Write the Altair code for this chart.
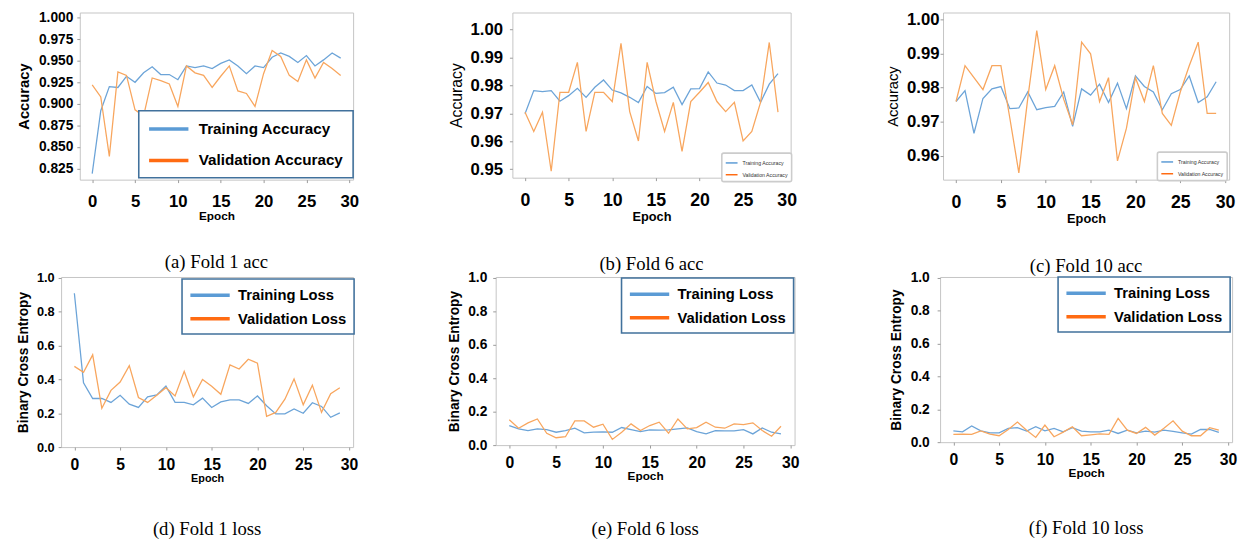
import altair as alt
import pandas as pd

epochs = list(range(30))

train_acc_f1 = [0.819, 0.892, 0.920, 0.919, 0.932, 0.925, 0.936, 0.943, 0.934, 0.934,
                0.928, 0.944, 0.942, 0.944, 0.941, 0.947, 0.951, 0.944, 0.935, 0.944,
                0.942, 0.954, 0.959, 0.955, 0.948, 0.956, 0.944, 0.951, 0.959, 0.953]
val_acc_f1 = [0.922, 0.908, 0.839, 0.937, 0.933, 0.893, 0.886, 0.930, 0.927, 0.923,
              0.897, 0.944, 0.936, 0.933, 0.919, 0.932, 0.944, 0.915, 0.912, 0.897,
              0.935, 0.962, 0.955, 0.933, 0.926, 0.951, 0.930, 0.948, 0.941, 0.933]

train_acc_f6 = [0.9698, 0.9781, 0.9777, 0.9781, 0.9743, 0.9763, 0.9789, 0.9757, 0.9793, 0.9819,
                0.9783, 0.9773, 0.9757, 0.9738, 0.9796, 0.9771, 0.9774, 0.9793, 0.9731, 0.9787,
                0.9788, 0.9848, 0.9808, 0.9801, 0.9781, 0.9781, 0.9801, 0.9739, 0.9804, 0.9842]
val_acc_f6 = [0.9704, 0.9635, 0.9704, 0.9493, 0.9775, 0.9775, 0.9882, 0.9635, 0.9775, 0.9775,
              0.9742, 0.9950, 0.9706, 0.9601, 0.9882, 0.9743, 0.9635, 0.9739, 0.9564, 0.9742,
              0.9775, 0.9810, 0.9742, 0.9706, 0.9739, 0.9601, 0.9635, 0.9739, 0.9953, 0.9704]

train_acc_f10 = [0.9759, 0.9791, 0.9666, 0.9768, 0.9796, 0.9803, 0.9738, 0.9740, 0.9787, 0.9735,
                 0.9741, 0.9745, 0.9787, 0.9686, 0.9796, 0.9778, 0.9810, 0.9756, 0.9813, 0.9738,
                 0.9834, 0.9803, 0.9787, 0.9735, 0.9782, 0.9794, 0.9834, 0.9756, 0.9773, 0.9817]
val_acc_f10 = [0.9759, 0.9864, 0.9829, 0.9794, 0.9864, 0.9864, 0.9710, 0.9550, 0.9769, 0.9967,
               0.9794, 0.9864, 0.9766, 0.9691, 0.9933, 0.9899, 0.9759, 0.9829, 0.9585, 0.9681,
               0.9829, 0.9759, 0.9864, 0.9724, 0.9689, 0.9787, 0.9864, 0.9933, 0.9724, 0.9724]

train_loss_f1 = [0.909, 0.380, 0.287, 0.287, 0.264, 0.306, 0.254, 0.234, 0.297, 0.308,
                 0.360, 0.264, 0.264, 0.250, 0.289, 0.234, 0.267, 0.279, 0.279, 0.258,
                 0.302, 0.244, 0.196, 0.196, 0.225, 0.200, 0.262, 0.240, 0.176, 0.202]
val_loss_f1 = [0.477, 0.442, 0.545, 0.229, 0.335, 0.384, 0.481, 0.293, 0.264, 0.306,
               0.351, 0.302, 0.448, 0.297, 0.399, 0.360, 0.312, 0.486, 0.461, 0.519,
               0.496, 0.182, 0.205, 0.283, 0.403, 0.250, 0.366, 0.205, 0.316, 0.351]

train_loss_f6 = [0.117, 0.097, 0.087, 0.097, 0.093, 0.077, 0.087, 0.101, 0.073, 0.077,
                 0.079, 0.077, 0.105, 0.093, 0.081, 0.091, 0.089, 0.091, 0.097, 0.103,
                 0.081, 0.067, 0.087, 0.085, 0.085, 0.093, 0.067, 0.103, 0.077, 0.067]
val_loss_f6 = [0.152, 0.101, 0.133, 0.156, 0.071, 0.044, 0.050, 0.145, 0.145, 0.107,
               0.125, 0.034, 0.077, 0.127, 0.087, 0.117, 0.137, 0.071, 0.156, 0.097,
               0.105, 0.137, 0.107, 0.101, 0.127, 0.123, 0.133, 0.087, 0.053, 0.113]

train_loss_f10 = [0.069, 0.063, 0.098, 0.069, 0.057, 0.057, 0.084, 0.088, 0.067, 0.094,
                  0.069, 0.084, 0.063, 0.088, 0.067, 0.063, 0.063, 0.073, 0.053, 0.073,
                  0.057, 0.067, 0.061, 0.073, 0.065, 0.057, 0.049, 0.077, 0.077, 0.059]
val_loss_f10 = [0.047, 0.049, 0.047, 0.069, 0.049, 0.039, 0.077, 0.122, 0.073, 0.029,
                0.104, 0.033, 0.061, 0.094, 0.039, 0.045, 0.051, 0.047, 0.145, 0.073,
                0.053, 0.090, 0.043, 0.084, 0.130, 0.067, 0.039, 0.039, 0.088, 0.073]

acc_names = ["Training Accuracy", "Validation Accuracy"]
loss_names = ["Training Loss", "Validation Loss"]
x_ticks = [0, 5, 10, 15, 20, 25, 30]
acc_ticks_f1 = [0.825, 0.850, 0.875, 0.900, 0.925, 0.950, 0.975, 1.000]
acc_ticks_f6 = [0.95, 0.96, 0.97, 0.98, 0.99, 1.00]
acc_ticks_f10 = [0.96, 0.97, 0.98, 0.99, 1.00]
loss_ticks = [0.0, 0.2, 0.4, 0.6, 0.8, 1.0]
captions = ["(a) Fold 1 acc", "(b) Fold 6 acc", "(c) Fold 10 acc",
            "(d) Fold 1 loss", "(e) Fold 6 loss", "(f) Fold 10 loss"]

SANS = "Liberation Sans, Arial, sans-serif"
SERIF = "Liberation Serif, Times New Roman, serif"

BLUE_LINE = "#6ca4d8"
ORANGE_LINE = "#f8a65e"
BLUE_KEY = "#5b9bd5"
ORANGE_KEY = "#ff6b12"


def big_legend(lx, ly, fs, rp, lo, pad):
    return dict(
        title=None, orient="none", legendX=lx, legendY=ly,
        symbolType="M-2.667,0H2.667", symbolSize=225, symbolStrokeWidth=3.5,
        symbolOpacity=1, symbolOffset=12, labelOffset=lo,
        labelFont=SANS, labelFontSize=fs, labelFontWeight="bold", labelColor="black",
        labelLimit=400,
        fillColor="white", strokeColor="#41719c",
        padding=pad, rowPadding=rp,
    )


def small_legend(lx, ly):
    return dict(
        title=None, orient="none", legendX=lx, legendY=ly,
        symbolType="stroke", symbolSize=144, symbolStrokeWidth=1.5, symbolOpacity=1,
        labelFont=SANS, labelFontSize=5.3, labelColor="#333", labelOffset=4,
        fillColor="white", strokeColor="#cccccc", cornerRadius=2,
        padding=3, rowPadding=1,
    )


def panel(train, val, names, ydom, yticks, yfmt, ytitle, ytsize, ytweight, ytpad,
          ylsize, ylpad, xlsize, xlpad, etsize, etpad, legend, caption, w, h, cap_off):
    df = pd.DataFrame({
        "epoch": epochs + epochs,
        "value": train + val,
        "series": [names[0]] * len(epochs) + [names[1]] * len(epochs),
    })
    x = alt.X("epoch:Q",
              scale=alt.Scale(domain=[-1.45, 30.45], nice=False, zero=False),
              axis=alt.Axis(values=x_ticks, format="d", title="Epoch",
                            titleFont=SANS, titleFontSize=etsize, titleFontWeight="bold",
                            titleColor="black", titlePadding=etpad,
                            labelFont=SANS, labelFontSize=xlsize, labelFontWeight="bold",
                            labelColor="black", labelPadding=xlpad, labelFlush=False,
                            grid=False, domain=False, tickSize=3, tickColor="#999"))
    y = alt.Y("value:Q",
              scale=alt.Scale(domain=ydom, nice=False, zero=False),
              axis=alt.Axis(values=yticks, format=yfmt, title=ytitle,
                            titleFont=SANS, titleFontSize=ytsize, titleFontWeight=ytweight,
                            titleColor="black", titlePadding=ytpad,
                            labelFont=SANS, labelFontSize=ylsize, labelFontWeight="bold",
                            labelColor="black", labelPadding=ylpad, labelFlush=False,
                            grid=False, domain=False, tickSize=3, tickColor="#999"))
    key = alt.Chart(df).mark_line(opacity=0).encode(
        x=x, y=y,
        color=alt.Color("series:N",
                        scale=alt.Scale(domain=names, range=[BLUE_KEY, ORANGE_KEY]),
                        legend=alt.Legend(**legend)))
    lines = alt.Chart(df).mark_line(strokeWidth=1.3, clip=True).encode(
        x=x, y=y,
        color=alt.Color("series:N",
                        scale=alt.Scale(domain=names, range=[BLUE_LINE, ORANGE_LINE]),
                        legend=None))
    return alt.layer(key, lines).resolve_scale(color="independent").properties(
        width=w, height=h,
        title=alt.TitleParams(caption, orient="bottom", anchor="middle", font=SERIF,
                              fontSize=19, fontWeight="normal", color="black",
                              offset=cap_off))


def spacer():
    return alt.Chart(pd.DataFrame({"s": [0]})).mark_point(opacity=0).encode(
        x=alt.X("s:Q", axis=None), y=alt.Y("s:Q", axis=None)
    ).properties(width=4, height=1, view=alt.ViewBackground(stroke="transparent"))


pa = panel(train_acc_f1, val_acc_f1, acc_names, [0.812, 1.006], acc_ticks_f1, ".3f",
           "Accuracy", 15, "bold", 7, 14, 4, 17, 11, 12, 2,
           big_legend(60, 100, 15.5, 14, 21, 9), captions[0], 278, 170, 32)
pb = panel(train_acc_f6, val_acc_f6, acc_names, [0.947, 1.006], acc_ticks_f6, ".2f",
           "Accuracy", 16, "normal", 6, 17, 7, 18, 11, 13, 2,
           small_legend(213, 143), captions[1], 283, 168, 32)
pc = panel(train_acc_f10, val_acc_f10, acc_names, [0.953, 1.002], acc_ticks_f10, ".2f",
           "Accuracy", 15, "normal", 6, 17, 1, 18, 11, 13, 2,
           small_legend(218, 142), captions[2], 291, 170, 32)
pd_ = panel(train_loss_f1, val_loss_f1, loss_names, [0.0, 1.005], loss_ticks, ".1f",
            "Binary Cross Entropy", 14, "bold", 6, 13, 4, 16, 7, 11, 0,
            big_legend(123, 2, 15, 6, 19, 7), captions[3], 297, 173, 37)
pe = panel(train_loss_f6, val_loss_f6, loss_names, [0.0, 1.005], loss_ticks, ".1f",
           "Binary Cross Entropy", 14, "bold", 6, 14, 6, 16, 7, 12, 0,
           big_legend(128, 1, 15, 6, 19, 7), captions[4], 304, 171, 39)
pf = panel(train_loss_f10, val_loss_f10, loss_names, [0.0, 1.005], loss_ticks, ".1f",
           "Binary Cross Entropy", 14, "bold", 7, 14, 8, 16, 7, 12, 0,
           big_legend(120, 0, 15, 6, 19, 7), captions[5], 297, 168, 41)

inner1 = alt.hconcat(pa, pb, pc, spacing=89).resolve_scale(
    x="independent", y="independent", color="independent")
inner2 = alt.hconcat(pd_, pe, pf, spacing=90).resolve_scale(
    x="independent", y="independent", color="independent")

row1 = alt.hconcat(spacer(), inner1, spacing=0).resolve_scale(
    x="independent", y="independent", color="independent")
row2 = alt.hconcat(spacer(), inner2, spacing=0).resolve_scale(
    x="independent", y="independent", color="independent")

chart = alt.vconcat(row1, row2, spacing=-9).resolve_scale(
    x="independent", y="independent", color="independent"
).properties(
    padding={"left": 0, "top": -3, "right": 0, "bottom": 0}
).configure_view(
    stroke="#c4c4c4", strokeWidth=1
).configure_legend(strokeWidth=1.6)

chart.save("out.html", embed_options={"renderer": "svg", "actions": False})
